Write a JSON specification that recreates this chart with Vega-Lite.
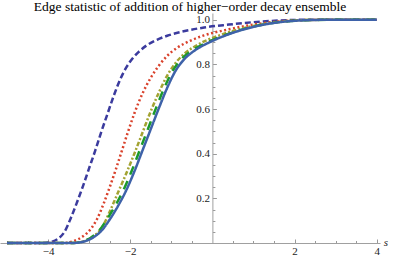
{
  "$schema": "https://vega.github.io/schema/vega-lite/v6.json",
  "width": 380,
  "height": 230,
  "autosize": {"type": "none"},
  "padding": {"left": 0, "top": 13, "right": 19, "bottom": 16},
  "background": "white",
  "title": {"text": "Edge statistic of addition of higher−order decay ensemble", "font": "Liberation Serif", "fontSize": 13.5, "fontWeight": "normal", "color": "#000000", "anchor": "middle", "offset": 2, "dy": 2},
  "config": {"view": {"stroke": null}},
  "datasets": {
    "curves": [
      {"k": "a", "s": -5.0, "p": 0}, {"k": "a", "s": -4.1, "p": 0}, {"k": "a", "s": -3.9, "p": 0.006}, {"k": "a", "s": -3.75, "p": 0.02}, {"k": "a", "s": -3.6, "p": 0.05}, {"k": "a", "s": -3.45, "p": 0.11}, {"k": "a", "s": -3.3, "p": 0.18}, {"k": "a", "s": -3.15, "p": 0.255}, {"k": "a", "s": -3.0, "p": 0.335}, {"k": "a", "s": -2.85, "p": 0.415}, {"k": "a", "s": -2.7, "p": 0.5}, {"k": "a", "s": -2.55, "p": 0.58}, {"k": "a", "s": -2.4, "p": 0.66}, {"k": "a", "s": -2.25, "p": 0.73}, {"k": "a", "s": -2.1, "p": 0.785}, {"k": "a", "s": -1.95, "p": 0.825}, {"k": "a", "s": -1.8, "p": 0.855}, {"k": "a", "s": -1.6, "p": 0.885}, {"k": "a", "s": -1.35, "p": 0.91}, {"k": "a", "s": -1.1, "p": 0.928}, {"k": "a", "s": -0.7, "p": 0.948}, {"k": "a", "s": -0.2, "p": 0.965}, {"k": "a", "s": 0.4, "p": 0.978}, {"k": "a", "s": 1.0, "p": 0.989}, {"k": "a", "s": 1.6, "p": 0.996}, {"k": "a", "s": 2.4, "p": 1.0}, {"k": "a", "s": 4.0, "p": 1.0},
      {"k": "b", "s": -5.0, "p": 0}, {"k": "b", "s": -3.6, "p": 0}, {"k": "b", "s": -3.35, "p": 0.01}, {"k": "b", "s": -3.15, "p": 0.03}, {"k": "b", "s": -2.95, "p": 0.065}, {"k": "b", "s": -2.8, "p": 0.11}, {"k": "b", "s": -2.65, "p": 0.175}, {"k": "b", "s": -2.5, "p": 0.25}, {"k": "b", "s": -2.35, "p": 0.33}, {"k": "b", "s": -2.2, "p": 0.415}, {"k": "b", "s": -2.05, "p": 0.5}, {"k": "b", "s": -1.9, "p": 0.58}, {"k": "b", "s": -1.7, "p": 0.67}, {"k": "b", "s": -1.5, "p": 0.74}, {"k": "b", "s": -1.3, "p": 0.795}, {"k": "b", "s": -1.1, "p": 0.838}, {"k": "b", "s": -0.85, "p": 0.875}, {"k": "b", "s": -0.55, "p": 0.905}, {"k": "b", "s": -0.2, "p": 0.93}, {"k": "b", "s": 0.3, "p": 0.953}, {"k": "b", "s": 0.9, "p": 0.975}, {"k": "b", "s": 1.5, "p": 0.99}, {"k": "b", "s": 2.2, "p": 0.998}, {"k": "b", "s": 3.0, "p": 1.0}, {"k": "b", "s": 4.0, "p": 1.0},
      {"k": "c", "s": -5.0, "p": 0}, {"k": "c", "s": -3.4, "p": 0}, {"k": "c", "s": -3.1, "p": 0.01}, {"k": "c", "s": -2.9, "p": 0.03}, {"k": "c", "s": -2.7, "p": 0.065}, {"k": "c", "s": -2.5, "p": 0.14}, {"k": "c", "s": -2.3, "p": 0.225}, {"k": "c", "s": -2.1, "p": 0.31}, {"k": "c", "s": -1.9, "p": 0.4}, {"k": "c", "s": -1.7, "p": 0.495}, {"k": "c", "s": -1.5, "p": 0.59}, {"k": "c", "s": -1.3, "p": 0.675}, {"k": "c", "s": -1.1, "p": 0.75}, {"k": "c", "s": -0.9, "p": 0.805}, {"k": "c", "s": -0.7, "p": 0.845}, {"k": "c", "s": -0.45, "p": 0.878}, {"k": "c", "s": -0.2, "p": 0.903}, {"k": "c", "s": 0.1, "p": 0.925}, {"k": "c", "s": 0.5, "p": 0.95}, {"k": "c", "s": 1.0, "p": 0.972}, {"k": "c", "s": 1.6, "p": 0.99}, {"k": "c", "s": 2.2, "p": 0.998}, {"k": "c", "s": 3.0, "p": 1.0}, {"k": "c", "s": 4.0, "p": 1.0},
      {"k": "d", "s": -5.0, "p": 0}, {"k": "d", "s": -3.4, "p": 0}, {"k": "d", "s": -3.15, "p": 0.008}, {"k": "d", "s": -2.95, "p": 0.025}, {"k": "d", "s": -2.76, "p": 0.055}, {"k": "d", "s": -2.57, "p": 0.105}, {"k": "d", "s": -2.37, "p": 0.165}, {"k": "d", "s": -2.17, "p": 0.235}, {"k": "d", "s": -1.97, "p": 0.32}, {"k": "d", "s": -1.77, "p": 0.415}, {"k": "d", "s": -1.57, "p": 0.51}, {"k": "d", "s": -1.37, "p": 0.605}, {"k": "d", "s": -1.17, "p": 0.695}, {"k": "d", "s": -0.97, "p": 0.77}, {"k": "d", "s": -0.77, "p": 0.82}, {"k": "d", "s": -0.57, "p": 0.853}, {"k": "d", "s": -0.36, "p": 0.877}, {"k": "d", "s": -0.05, "p": 0.905}, {"k": "d", "s": 0.36, "p": 0.935}, {"k": "d", "s": 0.97, "p": 0.968}, {"k": "d", "s": 1.58, "p": 0.988}, {"k": "d", "s": 2.2, "p": 0.997}, {"k": "d", "s": 3.0, "p": 1.0}, {"k": "d", "s": 4.0, "p": 1.0},
      {"k": "e", "s": -5.0, "p": 0}, {"k": "e", "s": -3.4, "p": 0}, {"k": "e", "s": -3.1, "p": 0.008}, {"k": "e", "s": -2.9, "p": 0.025}, {"k": "e", "s": -2.7, "p": 0.055}, {"k": "e", "s": -2.5, "p": 0.105}, {"k": "e", "s": -2.3, "p": 0.165}, {"k": "e", "s": -2.1, "p": 0.235}, {"k": "e", "s": -1.9, "p": 0.32}, {"k": "e", "s": -1.7, "p": 0.415}, {"k": "e", "s": -1.5, "p": 0.51}, {"k": "e", "s": -1.3, "p": 0.605}, {"k": "e", "s": -1.1, "p": 0.695}, {"k": "e", "s": -0.9, "p": 0.77}, {"k": "e", "s": -0.7, "p": 0.82}, {"k": "e", "s": -0.5, "p": 0.853}, {"k": "e", "s": -0.3, "p": 0.877}, {"k": "e", "s": 0.0, "p": 0.905}, {"k": "e", "s": 0.4, "p": 0.935}, {"k": "e", "s": 1.0, "p": 0.968}, {"k": "e", "s": 1.6, "p": 0.988}, {"k": "e", "s": 2.2, "p": 0.997}, {"k": "e", "s": 3.0, "p": 1.0}, {"k": "e", "s": 4.0, "p": 1.0}
    ],
    "origin": [{"s": 0, "p": 0}]
  },
  "layer": [
    {
      "data": {"name": "origin"},
      "mark": {"type": "point", "opacity": 0, "size": 1},
      "encoding": {
        "x": {"field": "s", "type": "quantitative", "scale": {"domain": [-5.17, 4.08], "nice": false, "zero": false},
          "axis": {"orient": "bottom", "values": [-5, -4.5, -4, -3.5, -3, -2.5, -2, -1.5, -1, -0.5, 0.5, 1, 1.5, 2, 2.5, 3, 3.5, 4], "labels": false, "domain": false, "grid": false, "tickSize": -2.5, "tickColor": "#999999", "title": null}},
        "y": {"field": "p", "type": "quantitative", "scale": {"domain": [0, 1.03], "nice": false, "zero": false},
          "axis": {"orient": "left", "offset": -212.4, "values": [0.05, 0.1, 0.15, 0.25, 0.3, 0.35, 0.45, 0.5, 0.55, 0.65, 0.7, 0.75, 0.85, 0.9, 0.95], "labels": false, "domain": false, "grid": false, "tickSize": -2.5, "tickColor": "#999999", "title": null}}
      }
    },
    {
      "data": {"name": "curves"},
      "mark": {"type": "line", "interpolate": "monotone", "strokeWidth": 2.5},
      "encoding": {
        "x": {"field": "s", "type": "quantitative", "scale": {"domain": [-5.17, 4.08], "nice": false, "zero": false},
          "axis": {"orient": "bottom", "values": [-4, -2, 2, 4], "format": "d", "grid": false, "tickSize": -4, "tickColor": "#999999", "domainColor": "#a0a0a0", "labelFont": "Liberation Serif", "labelFontSize": 11, "labelColor": "#222222", "labelPadding": 6.5,
            "title": "s", "titleFont": "Liberation Serif", "titleFontSize": 11, "titleFontStyle": "italic", "titleFontWeight": "normal", "titleColor": "#222222", "titleX": 385.5, "titleY": 2.5, "titleAlign": "center", "titleBaseline": "alphabetic"}},
        "y": {"field": "p", "type": "quantitative", "scale": {"domain": [0, 1.03], "nice": false, "zero": false},
          "axis": {"orient": "left", "offset": -212.4, "values": [0.2, 0.4, 0.6, 0.8, 1.0], "format": ".1f", "grid": false, "tickSize": -4, "tickColor": "#999999", "domainColor": "#a0a0a0", "labelFont": "Liberation Serif", "labelFontSize": 11, "labelColor": "#222222", "labelPadding": 7, "title": null}},
        "color": {"field": "k", "type": "nominal", "legend": null, "scale": {"domain": ["a", "b", "c", "d", "e"], "range": ["#3b3b9e", "#d9412b", "#a3a332", "#1c9a2c", "#3e62a9"]}},
        "strokeDash": {"field": "k", "type": "nominal", "legend": null, "scale": {"domain": ["a", "b", "c", "d", "e"], "range": [[6, 3], [2, 2.5], [4.5, 2, 2, 2], [9, 7], [1, 0]]}}
      }
    }
  ],
  "resolve": {"axis": {"x": "independent", "y": "independent"}}
}
